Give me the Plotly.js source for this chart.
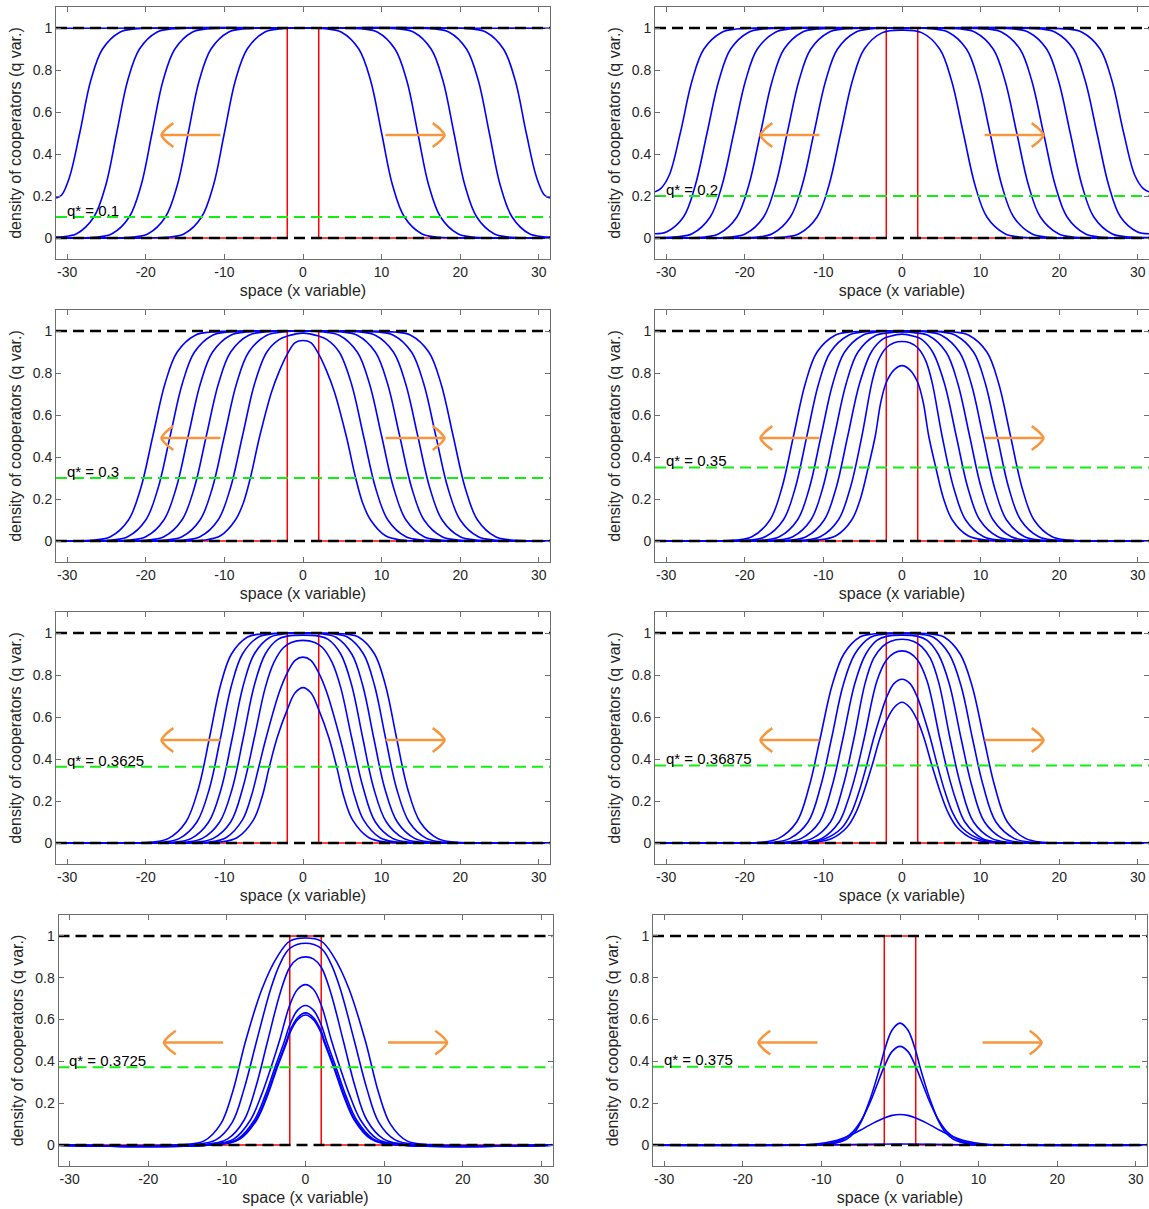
<!DOCTYPE html>
<html><head><meta charset="utf-8">
<script src="https://cdn.plot.ly/plotly-3.0.1.min.js"></script>
<style>html,body{margin:0;padding:0;background:#fff}#chart{width:1149px;height:1209px}</style>
</head><body><div id="chart"></div>
<script>
// ---------- data ----------
const qStarValues = [0.1, 0.2, 0.3, 0.35, 0.3625, 0.36875, 0.3725, 0.375];
const qStarLabels = ["q* = 0.1", "q* = 0.2", "q* = 0.3", "q* = 0.35", "q* = 0.3625", "q* = 0.36875", "q* = 0.3725", "q* = 0.375"];
const xLimit = 31.42;
const xTickVals = [-30, -20, -10, 0, 10, 20, 30];
const xTickText = ["-30", "-20", "-10", "0", "10", "20", "30"];
const yTickVals = [0, 0.2, 0.4, 0.6, 0.8, 1];
const yTickText = ["0", "0.2", "0.4", "0.6", "0.8", "1"];
const initialBlockX = [2];     // initial condition: q = 1 for |x| < 2
const initialBlockQ = [1];
const referenceLevels = [0, 1];
const arrowShaftX = [10.5, 18];
const arrowLevel = [0.49];
const arrowHeadBack = [0, 0.55, 1.5];
const arrowHeadRise = [0, 0.028, 0.057];

// Each profile is symmetric about x = 0; only the right half (x >= 0) is listed as [x, q] pairs.
const profilesQ0100 = [
  [[0,1],[3.1,0.995],[4.9,0.98],[7.1,0.9],[8.6,0.75],[10,0.5],[11.4,0.25],[12.9,0.1],[15.1,0.02],[16.9,0.005],[20,0.0005],[31.42,0]],
  [[0,1],[7.7,0.995],[9.5,0.98],[11.7,0.9],[13.2,0.75],[14.6,0.5],[16,0.25],[17.5,0.1],[19.7,0.02],[21.5,0.005],[24.6,0.0005],[31.42,0]],
  [[0,1],[12.3,0.995],[14.1,0.98],[16.3,0.9],[17.8,0.75],[19.2,0.5],[20.6,0.25],[22.1,0.1],[24.3,0.02],[26.1,0.005],[29.2,0.0006],[31.42,0.0004]],
  [[0,1],[16.8,0.995],[18.6,0.98],[20.8,0.9],[22.3,0.75],[23.7,0.5],[25.1,0.25],[26.6,0.1],[28.8,0.02],[30.6,0.006],[31.42,0.005]],
  [[0,1],[21.5,0.995],[23.3,0.98],[25.5,0.9],[27,0.75],[28.4,0.5],[29.7,0.29],[30.7,0.205],[31.42,0.19]],
  [[0,1],[31.42,0.999]]
];
const profilesQ0200 = [
  [[0,0.99],[2.5,0.978],[4.8,0.9],[6.3,0.75],[7.8,0.5],[9.3,0.25],[10.8,0.1],[13.1,0.02],[14.9,0.005],[18,0.0005],[31.42,0]],
  [[0,1],[4.1,0.995],[5.9,0.98],[8.2,0.9],[9.7,0.75],[11.2,0.5],[12.7,0.25],[14.2,0.1],[16.5,0.02],[18.3,0.005],[21.4,0.0005],[31.42,0]],
  [[0,1],[7.5,0.995],[9.3,0.98],[11.6,0.9],[13.1,0.75],[14.6,0.5],[16.1,0.25],[17.6,0.1],[19.9,0.02],[21.7,0.005],[24.8,0.0005],[31.42,0]],
  [[0,1],[10.9,0.995],[12.7,0.98],[15,0.9],[16.5,0.75],[18,0.5],[19.5,0.25],[21,0.1],[23.3,0.02],[25.1,0.005],[28.2,0.0007],[31.42,0.0003]],
  [[0,1],[14.3,0.995],[16.1,0.98],[18.4,0.9],[19.9,0.75],[21.4,0.5],[22.9,0.25],[24.4,0.1],[26.7,0.02],[28.5,0.006],[31.42,0.002]],
  [[0,1],[17.7,0.995],[19.5,0.98],[21.8,0.9],[23.3,0.75],[24.8,0.5],[26.3,0.25],[27.8,0.1],[29.9,0.03],[31.42,0.02]],
  [[0,1],[21.1,0.995],[22.9,0.98],[25.2,0.9],[26.7,0.75],[28.2,0.5],[29.6,0.3],[30.7,0.235],[31.42,0.22]]
];
const profilesQ0300 = [
  [[0,0.955],[1,0.945],[2,0.89],[3,0.81],[4,0.71],[5.5,0.5],[6.7,0.3],[7.6,0.18],[8.6,0.1],[10.5,0.025],[12.5,0.005],[16,0.0003],[31.42,0]],
  [[0,0.99],[2,0.976],[3,0.96],[4.6,0.9],[6.15,0.75],[7.7,0.5],[9.25,0.25],[10.8,0.1],[13.1,0.02],[15.1,0.005],[18.5,0.0004],[31.42,0]],
  [[0,1],[2.6,0.995],[4.6,0.98],[6.9,0.9],[8.45,0.75],[10,0.5],[11.55,0.25],[13.1,0.1],[15.4,0.02],[17.4,0.005],[20.8,0.0004],[31.42,0]],
  [[0,1],[4.9,0.995],[6.9,0.98],[9.2,0.9],[10.75,0.75],[12.3,0.5],[13.85,0.25],[15.4,0.1],[17.7,0.02],[19.7,0.005],[23.1,0.0004],[31.42,0]],
  [[0,1],[7.2,0.995],[9.2,0.98],[11.5,0.9],[13.05,0.75],[14.6,0.5],[16.15,0.25],[17.7,0.1],[20,0.02],[22,0.005],[25.4,0.0004],[31.42,0]],
  [[0,1],[9.5,0.995],[11.5,0.98],[13.8,0.9],[15.35,0.75],[16.9,0.5],[18.45,0.25],[20,0.1],[22.3,0.02],[24.3,0.005],[27.7,0.0004],[31.42,0]],
  [[0,1],[11.7,0.995],[13.7,0.98],[16,0.9],[17.55,0.75],[19.1,0.5],[20.65,0.25],[22.2,0.1],[24.5,0.02],[26.5,0.005],[29.9,0.0004],[31.42,0.0002]]
];
const profilesQ0350 = [
  [[0,0.835],[1,0.815],[2,0.755],[2.7,0.66],[3.4,0.5],[4.3,0.35],[5.3,0.2],[6.4,0.1],[8.4,0.025],[10.8,0.004],[14,0.0003],[31.42,0]],
  [[0,0.95],[1,0.944],[2,0.92],[3,0.86],[3.8,0.76],[5.1,0.5],[6.6,0.25],[8.1,0.1],[10.4,0.02],[12.5,0.004],[15.5,0.0003],[31.42,0]],
  [[0,0.985],[1.5,0.975],[2.5,0.96],[3.9,0.9],[5.4,0.75],[6.9,0.5],[8.4,0.25],[9.9,0.1],[12.2,0.02],[14.3,0.004],[17.3,0.0003],[31.42,0]],
  [[0,0.995],[2,0.99],[3.3,0.98],[5.6,0.9],[7.1,0.75],[8.6,0.5],[10.1,0.25],[11.6,0.1],[13.9,0.02],[16,0.004],[19,0.0003],[31.42,0]],
  [[0,1],[3.2,0.995],[5,0.98],[7.3,0.9],[8.8,0.75],[10.3,0.5],[11.8,0.25],[13.3,0.1],[15.6,0.02],[17.7,0.004],[20.7,0.0003],[31.42,0]],
  [[0,1],[5,0.995],[6.8,0.98],[9.1,0.9],[10.6,0.75],[12.1,0.5],[13.6,0.25],[15.1,0.1],[17.4,0.02],[19.5,0.004],[22.5,0.0003],[31.42,0]],
  [[0,1],[6.7,0.995],[8.5,0.98],[10.8,0.9],[12.3,0.75],[13.8,0.5],[15.3,0.25],[16.8,0.1],[19.1,0.02],[21.2,0.004],[24.2,0.0003],[31.42,0]]
];
const profilesQ0362 = [
  [[0,0.74],[1,0.715],[2,0.635],[3.3,0.5],[4.3,0.36],[5.2,0.22],[6.3,0.11],[8.4,0.025],[10.7,0.004],[14,0.0003],[31.42,0]],
  [[0,0.885],[1,0.87],[2,0.81],[3,0.72],[4.7,0.5],[5.7,0.35],[6.6,0.22],[7.7,0.11],[9.8,0.025],[12,0.004],[15.3,0.0003],[31.42,0]],
  [[0,0.965],[1.5,0.955],[2.5,0.93],[3.7,0.86],[4.8,0.74],[6.2,0.5],[7.6,0.27],[9.2,0.1],[11.4,0.022],[13.5,0.004],[16.8,0.0003],[31.42,0]],
  [[0,0.99],[2,0.985],[3.2,0.97],[4.8,0.9],[6.2,0.75],[7.6,0.5],[9,0.26],[10.6,0.1],[12.8,0.022],[14.9,0.004],[18.2,0.0003],[31.42,0]],
  [[0,1],[2.5,0.995],[4.2,0.98],[6.2,0.9],[7.6,0.75],[9,0.5],[10.4,0.26],[12,0.1],[14.2,0.022],[16.3,0.004],[19.6,0.0003],[31.42,0]],
  [[0,1],[4,0.995],[5.7,0.98],[7.7,0.9],[9.1,0.75],[10.5,0.5],[11.9,0.26],[13.5,0.1],[15.7,0.022],[17.8,0.004],[21.1,0.0003],[31.42,0]],
  [[0,1],[5.4,0.995],[7.1,0.98],[9.1,0.9],[10.5,0.75],[11.9,0.5],[13.3,0.26],[14.9,0.1],[17.1,0.022],[19.2,0.004],[22.5,0.0003],[31.42,0]]
];
const profilesQ0369 = [
  [[0,0.67],[1,0.645],[2,0.58],[2.8,0.5],[3.8,0.37],[4.8,0.25],[5.8,0.15],[7,0.075],[9,0.02],[11.5,0.003],[15,0.0002],[31.42,0]],
  [[0,0.78],[1,0.76],[2,0.69],[2.8,0.6],[3.6,0.5],[4.5,0.37],[5.5,0.24],[6.5,0.14],[7.7,0.07],[9.8,0.02],[12.3,0.003],[15.8,0.0002],[31.42,0]],
  [[0,0.915],[1,0.905],[2,0.87],[3.2,0.77],[4.8,0.5],[5.8,0.34],[6.9,0.2],[8,0.1],[10.2,0.022],[12.6,0.003],[16,0.0002],[31.42,0]],
  [[0,0.97],[1.5,0.96],[2.5,0.935],[3.6,0.88],[4.7,0.76],[6.1,0.5],[7.5,0.27],[9.1,0.1],[11.4,0.022],[13.7,0.003],[17.1,0.0002],[31.42,0]],
  [[0,0.99],[2,0.984],[3.2,0.965],[4.6,0.9],[6,0.76],[7.5,0.5],[8.9,0.27],[10.5,0.1],[12.8,0.022],[15.1,0.003],[18.5,0.0002],[31.42,0]],
  [[0,0.998],[2.5,0.993],[4,0.98],[6,0.9],[7.5,0.75],[8.95,0.5],[10.35,0.27],[11.95,0.1],[14.25,0.022],[16.5,0.003],[19.9,0.0002],[31.42,0]],
  [[0,1],[3.7,0.995],[5.4,0.98],[7.4,0.9],[8.9,0.75],[10.4,0.5],[11.8,0.27],[13.4,0.1],[15.7,0.022],[18,0.003],[21.4,0.0002],[31.42,0]]
];
const profilesQ0373 = [
  [[0,0.99],[2,0.975],[3.6,0.9],[5.5,0.75],[7.6,0.5],[9.3,0.25],[10.8,0.1],[12.9,0.02],[15.9,0.002],[31.42,0]],
  [[0,0.965],[2,0.94],[3.2,0.87],[4.4,0.75],[6.2,0.5],[7.8,0.27],[9.3,0.11],[11.4,0.025],[14.2,0.003],[31.42,0]],
  [[0,0.9],[1,0.89],[2,0.85],[3.2,0.73],[4.8,0.5],[6.3,0.28],[7.8,0.12],[9.9,0.03],[12.8,0.003],[31.42,0]],
  [[0,0.767],[1,0.745],[2,0.67],[3.3,0.5],[4.4,0.37],[5.6,0.24],[7,0.12],[9.1,0.03],[12,0.003],[31.42,0]],
  [[0,0.667],[1,0.645],[2,0.575],[2.65,0.5],[3.9,0.37],[5.1,0.24],[6.5,0.12],[8.6,0.03],[11.5,0.003],[31.42,0]],
  [[0,0.632],[1,0.61],[2,0.545],[2.4,0.5],[3.7,0.37],[4.9,0.24],[6.3,0.12],[8.4,0.03],[11.3,0.003],[31.42,0]],
  [[0,0.622],[1,0.6],[2,0.535],[2.3,0.5],[3.6,0.37],[4.8,0.24],[6.2,0.12],[8.3,0.03],[11.2,0.003],[31.42,0]]
];
const profilesQ0375 = [
  [[0,0.583],[1,0.55],[2,0.45],[2.5,0.38],[3,0.315],[3.8,0.22],[4.9,0.115],[5.8,0.06],[6.8,0.028],[8.5,0.007],[10.5,0.0015],[31.42,0]],
  [[0,0.472],[1,0.448],[2,0.375],[3,0.28],[3.8,0.205],[4.9,0.12],[6,0.063],[7.3,0.027],[9,0.008],[11,0.0015],[31.42,0]],
  [[0,0.146],[1,0.142],[2,0.13],[3,0.113],[4,0.093],[5,0.072],[6,0.053],[7,0.036],[8,0.023],[9.5,0.011],[11.5,0.003],[14,0.0005],[31.42,0]],
  [[0,0.005],[4,0.004],[8,0.0015],[12,0.0002],[31.42,0]]
];
const panelProfiles = [profilesQ0100, profilesQ0200, profilesQ0300, profilesQ0350,
                       profilesQ0362, profilesQ0369, profilesQ0373, profilesQ0375];

// ---------- layout geometry (pixels in the 1149 x 1209 page) ----------
const W = 1149, H = 1209;
const panelBoxes = [ // [left, right, top, bottom]
  [56, 550, 7, 259], [655, 1149, 7, 259],
  [56, 550, 310, 562], [655, 1149, 310, 562],
  [56, 550, 612, 864], [655, 1149, 612, 864],
  [58.5, 552.5, 915, 1166], [653, 1147, 915, 1166]
];

const FONT = "Liberation Sans, Arial, Helvetica, sans-serif";
const traces = [];
const annotations = [];
const layout = {
  width: W, height: H,
  margin: {l: 0, r: 0, t: 0, b: 0},
  paper_bgcolor: "#ffffff", plot_bgcolor: "#ffffff",
  showlegend: false,
  font: {family: FONT, size: 14, color: "#262626"},
  annotations: annotations
};

function mirror(half) {
  const xs = [], ys = [];
  for (let i = half.length - 1; i >= 1; i--) { xs.push(-half[i][0]); ys.push(half[i][1]); }
  for (let i = 0; i < half.length; i++) { xs.push(half[i][0]); ys.push(half[i][1]); }
  return {xs, ys};
}

panelBoxes.forEach((box, p) => {
  const n = p + 1;
  const xa = "x" + (n === 1 ? "" : n), ya = "y" + (n === 1 ? "" : n);
  const xKey = "xaxis" + (n === 1 ? "" : n), yKey = "yaxis" + (n === 1 ? "" : n);
  const axCommon = {
    showline: true, linecolor: "#6e6e6e", linewidth: 1, mirror: "ticks",
    ticks: "inside", ticklen: 5, tickwidth: 1, tickcolor: "#6e6e6e",
    showgrid: false, zeroline: false, fixedrange: true,
    tickfont: {family: FONT, size: 14, color: "#262626"}
  };
  layout[xKey] = Object.assign({}, axCommon, {
    domain: [box[0] / W, box[1] / W], anchor: ya,
    range: [-xLimit, xLimit], tickmode: "array", tickvals: xTickVals, ticktext: xTickText,
    title: {text: "space (x variable)", font: {family: FONT, size: 16, color: "#262626"}, standoff: 6}
  });
  layout[yKey] = Object.assign({}, axCommon, {
    domain: [1 - box[3] / H, 1 - box[2] / H], anchor: xa,
    range: [-0.1, 1.1], tickmode: "array", tickvals: yTickVals, ticktext: yTickText,
    title: {text: "density of cooperators (q var.)", font: {family: FONT, size: 16, color: "#262626"}, standoff: 7}
  });

  // initial condition (red)
  const a = initialBlockX[0], h = initialBlockQ[0];
  traces.push({type: "scatter", mode: "lines", xaxis: xa, yaxis: ya, hoverinfo: "skip",
    x: [-xLimit, -a, -a, a, a, xLimit], y: [0, 0, h, h, 0, 0],
    line: {color: "#ff0000", width: 1.5}});

  // blue profiles
  panelProfiles[p].forEach(half => {
    const m = mirror(half);
    traces.push({type: "scatter", mode: "lines", xaxis: xa, yaxis: ya, hoverinfo: "skip",
      x: m.xs, y: m.ys, line: {color: "#0000ff", width: 1.6, shape: "spline", smoothing: 1}});
  });

  // black dashed reference levels
  referenceLevels.forEach(lv => {
    traces.push({type: "scatter", mode: "lines", xaxis: xa, yaxis: ya, hoverinfo: "skip",
      x: [-xLimit, xLimit], y: [lv, lv], line: {color: "#000000", width: 2.5, dash: "11px,6px"}});
  });

  // green dashed q*
  const q = qStarValues[p];
  traces.push({type: "scatter", mode: "lines", xaxis: xa, yaxis: ya, hoverinfo: "skip",
    x: [-xLimit, xLimit], y: [q, q], line: {color: "#11ee11", width: 2, dash: "11px,6px"}});

  // orange arrows (left and right)
  [-1, 1].forEach(sgn => {
    const yv = arrowLevel[0];
    traces.push({type: "scatter", mode: "lines", xaxis: xa, yaxis: ya, hoverinfo: "skip",
      x: [sgn * arrowShaftX[0], sgn * arrowShaftX[1]], y: [yv, yv],
      line: {color: "#f7963c", width: 2.5}});
    const tip = sgn * arrowShaftX[1];
    const hx = [], hy = [];
    for (let i = arrowHeadBack.length - 1; i >= 0; i--) { hx.push(tip - sgn * arrowHeadBack[i]); hy.push(yv + arrowHeadRise[i]); }
    for (let i = 1; i < arrowHeadBack.length; i++) { hx.push(tip - sgn * arrowHeadBack[i]); hy.push(yv - arrowHeadRise[i]); }
    traces.push({type: "scatter", mode: "lines", xaxis: xa, yaxis: ya, hoverinfo: "skip",
      x: hx, y: hy, line: {color: "#f7963c", width: 2.5, shape: "spline", smoothing: 1}});
  });

  // q* label
  annotations.push({xref: xa, yref: ya, x: -30.3, y: q + 0.032, xanchor: "left", yanchor: "middle",
    text: qStarLabels[p], showarrow: false, font: {family: FONT, size: 15, color: "#000000"}});
});

Plotly.newPlot("chart", traces, layout, {displayModeBar: false, staticPlot: true});
</script>
</body></html>
